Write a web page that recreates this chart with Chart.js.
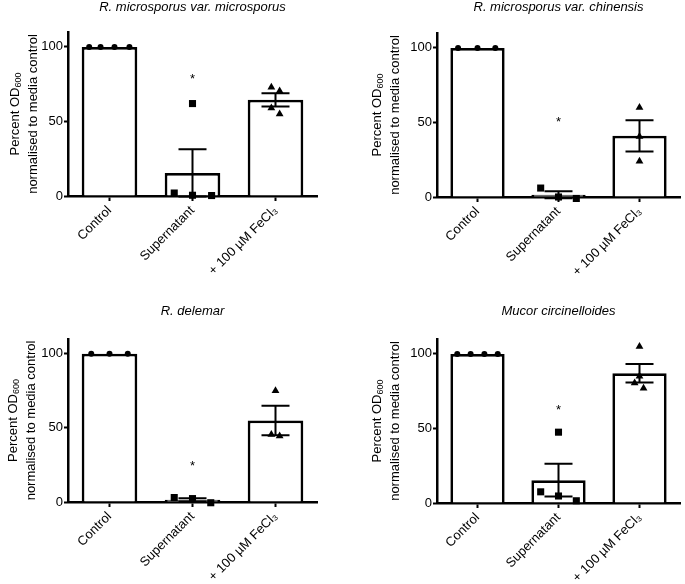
<!DOCTYPE html>
<html>
<head>
<meta charset="utf-8">
<script src="https://cdn.jsdelivr.net/npm/chart.js@4.4.0/dist/chart.umd.min.js"></script>
<style>
  body { margin: 0; background: #fff; }
  #wrap { position: relative; width: 685px; height: 584px; }
  canvas { position: absolute; }
</style>
</head>
<body>
<div id="wrap">
  <canvas id="c1" width="342" height="292" style="left:0;top:0"></canvas>
  <canvas id="c2" width="343" height="292" style="left:342px;top:0"></canvas>
  <canvas id="c3" width="342" height="292" style="left:0;top:292px"></canvas>
  <canvas id="c4" width="343" height="292" style="left:342px;top:292px"></canvas>
</div>
<script>
const categorias = ["Control", "Supernatant", "+ 100 µM FeCl₃"];
const tituloY = ["Percent OD", "600", "normalised to media control"];
const yTicks = [0, 50, 100];

// R. microsporus var. microsporus
const ctrl1 = [100, 100, 100, 100];
const sup1 = [62, 2, 0.5, 0.3];
const fe1 = [73, 70.5, 59, 55];
const media1 = [100, 15.5, 64.5];
const sem1 = [0, 15.8, 4.5];
const ast1 = 80;

// R. microsporus var. chinensis
const ctrl2 = [100, 100, 100];
const sup2 = [6, 0, -1];
const fe2 = [60, 40.5, 24];
const media2 = [100, 1.5, 41];
const sem2 = [0, 2.3, 10.5];
const ast2 = 52;

// R. delemar
const ctrl3 = [100, 100, 100];
const sup3 = [3, 2.3, -0.5];
const fe3 = [75, 45.5, 44.5];
const media3 = [100, 1.5, 55];
const sem3 = [0, 1.1, 10];
const ast3 = 26;

// Mucor circinelloides
const ctrl4 = [100, 100, 100, 100];
const sup4 = [47.5, 7.5, 4.7, 1.5];
const fe4 = [105, 85, 80.5, 77];
const media4 = [100, 15.3, 87];
const sem4 = [0, 11, 6.2];
const ast4 = 64;

// espalhamento horizontal dos pontos (em unidades de categoria)
const jit1 = [[-0.245, -0.108, 0.06, 0.24], [0, -0.22, 0, 0.23], [-0.05, 0.05, -0.05, 0.05]];
const jit2 = [[-0.24, 0, 0.22], [-0.22, 0, 0.22], [0, 0, 0]];
const jit3 = [[-0.22, 0, 0.22], [-0.22, 0, 0.22], [0, -0.05, 0.05]];
const jit4 = [[-0.25, -0.085, 0.085, 0.25], [0, -0.22, 0, 0.22], [0, 0, -0.06, 0.05]];

const fonte = "'Liberation Sans', Arial, sans-serif";

// titulo do eixo y com subscrito de verdade
const tituloPlugin = {
  id: "tituloY",
  afterDraw(chart) {
    const { ctx } = chart;
    const y = chart.scales.y;
    const cx = y.left + 13;
    const cy = (y.top + y.bottom) / 2;
    ctx.save();
    ctx.translate(cx, cy);
    ctx.rotate(-Math.PI / 2);
    ctx.fillStyle = "#000";
    ctx.textBaseline = "middle";
    ctx.textAlign = "left";
    ctx.font = "13px " + fonte;
    const w1 = ctx.measureText(tituloY[0]).width;
    ctx.font = "9px " + fonte;
    const w2 = ctx.measureText(tituloY[1]).width;
    const x0 = -(w1 + w2) / 2;
    ctx.font = "13px " + fonte;
    ctx.fillText(tituloY[0], x0, 0);
    ctx.font = "9px " + fonte;
    ctx.fillText(tituloY[1], x0 + w1, 4);
    ctx.font = "13px " + fonte;
    ctx.textAlign = "center";
    ctx.fillText(tituloY[2], 0, 18);
    ctx.restore();
  },
};

function erroPlugin(medias, erros, asterisco) {
  return {
    id: "erros",
    afterDatasetsDraw(chart) {
      const { ctx, scales: { x, y } } = chart;
      ctx.save();
      ctx.strokeStyle = "#000";
      ctx.lineWidth = 2;
      medias.forEach((m, i) => {
        if (!erros[i]) return;
        const px = x.getPixelForValue(i);
        const top = y.getPixelForValue(m + erros[i]);
        const bot = y.getPixelForValue(m - erros[i]);
        ctx.beginPath();
        ctx.moveTo(px, top); ctx.lineTo(px, bot);
        ctx.moveTo(px - 14, top); ctx.lineTo(px + 14, top);
        ctx.moveTo(px - 14, bot); ctx.lineTo(px + 14, bot);
        ctx.stroke();
      });
      ctx.fillStyle = "#000";
      ctx.font = "13px " + fonte;
      ctx.textAlign = "center";
      ctx.textBaseline = "middle";
      ctx.fillText("*", x.getPixelForValue(1), y.getPixelForValue(asterisco) + 3);
      ctx.restore();
    },
  };
}

function painel(id, titulo, pontos, jitter, medias, erros, asterisco, lay) {
  const estilos = ["circle", "rect", "triangle"];
  const raios = [3, 5, 4.5];
  const datasets = pontos.map((vals, i) => ({
    type: "scatter",
    xAxisID: "xs",
    data: vals.map((v, k) => ({ x: i + jitter[i][k], y: v })),
    pointStyle: estilos[i],
    pointRadius: raios[i],
    backgroundColor: "#000",
    borderColor: "#000",
    borderWidth: 0,
    clip: false,
    order: 0,
  }));
  datasets.push({
    type: "bar",
    xAxisID: "x",
    data: medias,
    backgroundColor: "#fff",
    borderColor: "#000",
    borderWidth: 2.75,
    grouped: false,
    barPercentage: 0.67,
    categoryPercentage: 1,
    order: 1,
  });

  const gradeX = { display: true, drawOnChartArea: false, offset: false, tickLength: 5, tickWidth: 2, tickColor: "#000" };
  const gradeY = { display: true, drawOnChartArea: false, tickLength: 4, tickWidth: 2, tickColor: "#000" };

  return new Chart(document.getElementById(id), {
    type: "bar",
    data: { labels: categorias, datasets: datasets },
    options: {
      responsive: false,
      animation: false,
      layout: { padding: { left: lay.left, right: lay.right, top: lay.top, bottom: 0 } },
      plugins: {
        legend: { display: false },
        tooltip: { enabled: false },
        title: {
          display: true,
          text: titulo,
          fullSize: false,
          color: "#000",
          font: { family: fonte, size: 13, style: "italic", weight: "normal" },
          padding: { top: 0, bottom: lay.gap },
        },
      },
      scales: {
        x: {
          grid: gradeX,
          border: { color: "#000", width: 2.5, dash: lay.dash || [] },
          ticks: { color: "#000", font: { family: fonte, size: 13 }, minRotation: 45, maxRotation: 45, padding: 2 },
          afterFit: (s) => { s.height = lay.xh; },
        },
        xs: { type: "linear", display: false, offset: false, grid: { offset: false }, min: -0.5, max: 2.5 },
        y: {
          min: 0,
          max: 110,
          afterBuildTicks: (s) => { s.ticks = yTicks.map((v) => ({ value: v })); },
          grid: gradeY,
          border: { color: "#000", width: 2.5 },
          ticks: { color: "#000", font: { family: fonte, size: 13 }, padding: 1 },
          afterFit: (s) => { s.width = lay.yw; },
        },
      },
    },
    plugins: [erroPlugin(medias, erros, asterisco), tituloPlugin],
  });
}

painel("c1", "R. microsporus var. microsporus", [ctrl1, sup1, fe1], jit1, media1, sem1, ast1,
  { left: 2, right: 25, top: 0, gap: 16.4, yw: 66, xh: 96 });
painel("c2", "R. microsporus var. chinensis", [ctrl2, sup2, fe2], jit2, media2, sem2, ast2,
  { left: 22, right: 0, top: 0, gap: 17.4, yw: 73, xh: 95 });
painel("c3", "R. delemar", [ctrl3, sup3, fe3], jit3, media3, sem3, ast3,
  { left: 0, right: 25, top: 12, gap: 19.4, yw: 68, xh: 82, dash: [2, 1.5] });
painel("c4", "Mucor circinelloides", [ctrl4, sup4, fe4], jit4, media4, sem4, ast4,
  { left: 22, right: 0, top: 12, gap: 19.4, yw: 73, xh: 81 });
</script>
</body>
</html>
